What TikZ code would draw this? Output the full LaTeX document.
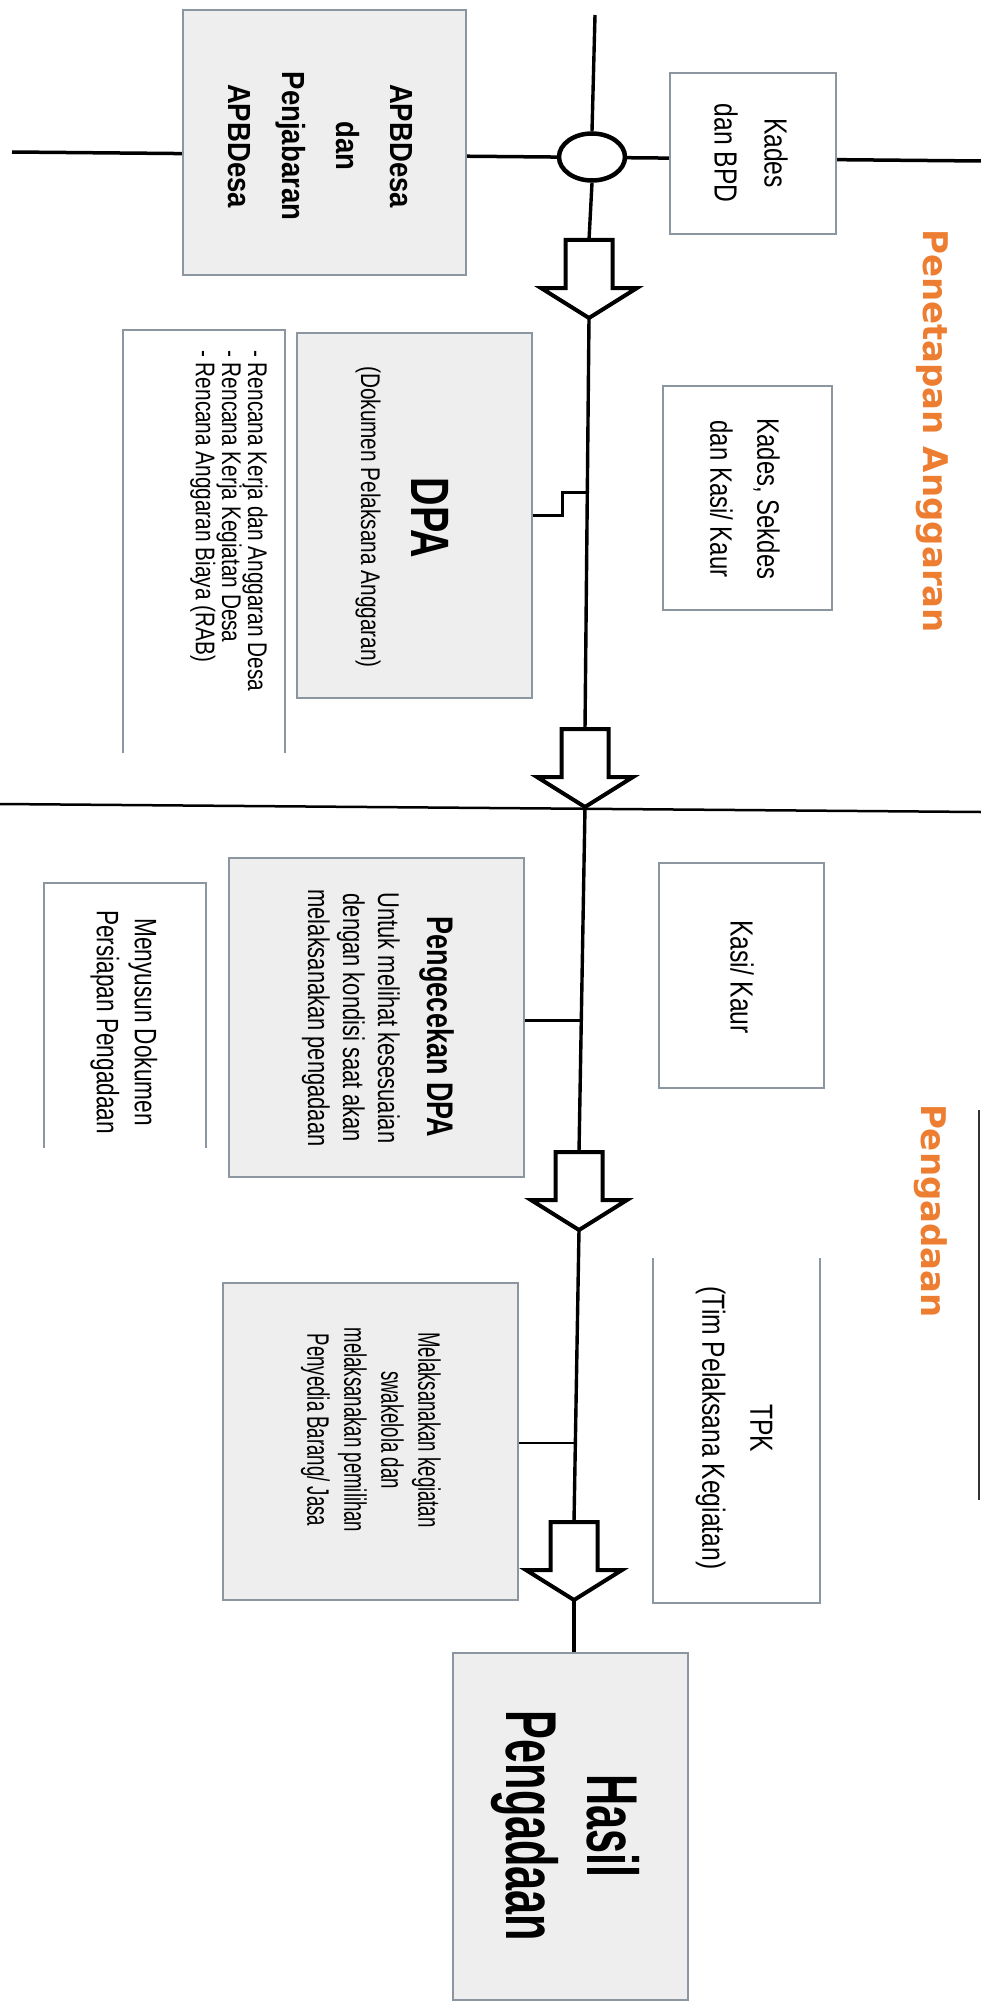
\documentclass[tikz,border=0pt]{standalone}
\usepackage{fontspec}
\usepackage{graphicx}
\setmainfont{Liberation Sans}
\newfontfamily\fA[FakeStretch=0.86]{Liberation Sans}
\newfontfamily\fB[FakeStretch=0.77]{Liberation Sans}
\newfontfamily\fC[FakeStretch=0.73]{Liberation Sans}
\newfontfamily\fD[FakeStretch=0.60]{Liberation Sans}
\newfontfamily\fO{DejaVu Sans}
\usetikzlibrary{shapes.geometric}
\definecolor{boxline}{RGB}{140,150,160}
\definecolor{boxfill}{RGB}{238,238,238}
\definecolor{orng}{RGB}{237,125,49}
\newcommand{\fs}[2]{\fontsize{#1}{#2}\selectfont}
\newcommand{\blockarrow}[3]{%
  \coordinate (#1t) at (#2,#3);
  \coordinate (#1p) at (#2,#3+78);
  \draw[barrow] (#2-23.5,#3) -- (#2+23.5,#3) -- (#2+23.5,#3+48) -- (#2+48,#3+48)
     -- (#2,#3+78) -- (#2-48,#3+48) -- (#2-23.5,#3+48) -- cycle;}
\tikzset{
  wbox/.style={draw=boxline, line width=1.5pt, fill=white, inner sep=0pt},
  gbox/.style={wbox, fill=boxfill},
  obox/.style={inner sep=0pt},
  side/.style={draw=boxline, line width=1.5pt},
  mline/.style={line width=3.4pt},
  conn/.style={line width=3pt},
  thinconn/.style={line width=2pt},
  barrow/.style={draw=black, line width=4pt, fill=white, line join=miter, miter limit=10},
  txt/.style={inner sep=0pt, rotate=-90, align=center, text=black},
  orange/.style={inner sep=0pt, rotate=-90, text=orng, font=\fO\bfseries\fs{34}{40}},
}
\begin{document}
\begin{tikzpicture}[x=1pt,y=-1pt]
\useasboundingbox[fill=white] (0,0) rectangle (981,2009);
% long horizontal lines
\coordinate (hl) at (12,152);
\coordinate (hr) at (981,161);
\draw[line width=3.5pt] (hl) -- (hr);
\coordinate (dl) at (0,804);
\coordinate (dr) at (981,812);
\draw[line width=2.5pt] (dl) -- (dr);
\coordinate (e1) at (979,1110);
\coordinate (e2) at (979,1500);
\draw[line width=2pt, black!80] (e1) -- (e2);

% boxes
\node[gbox, minimum width=283pt, minimum height=265pt] (apb) at (324.5,142.5) {};
\node[wbox, minimum width=166pt, minimum height=161pt] (kades) at (753,153.5) {};
\node[gbox, minimum width=235pt, minimum height=365pt] (dpa) at (414.5,515.5) {};
\node[obox, minimum width=162pt, minimum height=423pt] (renc) at (204,541.5) {};
\draw[side] (renc.south west) -- (renc.north west) -- (renc.north east) -- (renc.south east);
\node[wbox, minimum width=169pt, minimum height=224pt] (kadas) at (747.5,498) {};
\node[wbox, minimum width=165pt, minimum height=225pt] (kasi) at (741.5,975.5) {};
\node[gbox, minimum width=295pt, minimum height=319pt] (peng) at (376.5,1017.5) {};
\node[obox, minimum width=162pt, minimum height=265pt] (meny) at (125,1015.5) {};
\draw[side] (meny.south west) -- (meny.north west) -- (meny.north east) -- (meny.south east);
\node[obox, minimum width=167pt, minimum height=345pt] (tpk) at (736.5,1430.5) {};
\draw[side] (tpk.north west) -- (tpk.south west) -- (tpk.south east) -- (tpk.north east);
\node[gbox, minimum width=295pt, minimum height=317pt] (mel) at (370.5,1441.5) {};
\node[gbox, minimum width=235pt, minimum height=347pt] (hasil) at (570.5,1826.5) {};

% circle on the top line
\node[draw, ellipse, line width=4.5pt, fill=white, minimum width=66pt, minimum height=47pt, inner sep=0pt] (circ) at (592,157) {};

% main vertical line and block arrows
\coordinate (top) at (595,15);
\draw[mline] (top) -- (circ.north);
\blockarrow{a1}{589}{240}
\blockarrow{a2}{585}{729}
\blockarrow{a3}{579}{1152}
\blockarrow{a4}{574}{1522}
\draw[mline] (circ.south) -- (a1t);
\draw[mline] (a1p) -- (a2t);
\draw[mline] (a2p) -- (a3t);
\draw[mline] (a3p) -- (a4t);
\draw[mline] (a4p) -- (a4p |- hasil.north);

% side connectors
\coordinate (s1) at (587.5,492);
\coordinate (s2) at (562,515);
\draw[conn] (s1) -- (s1 -| s2) -- (s2) -- (s2 -| dpa.east);
\coordinate (c2) at (581.5,1020);
\draw[conn] (c2) -- (c2 -| peng.east);
\coordinate (c3) at (575,1443);
\draw[thinconn] (c3) -- (c3 -| mel.east);

% texts
\node[txt, font=\fA\bfseries\fs{32}{54}] (apbT) at (320,146) {APBDesa\\dan\\Penjabaran\\APBDesa};
\node[txt, font=\fB\fs{32}{50}] (kadesT) at (751,153) {Kades\\dan BPD};
\node[txt, font=\fC\bfseries\fs{54}{60}] (dpaT) at (430,518) {DPA};
\node[txt, font=\fB\fs{27}{32}] (dpaS) at (368,517) {(Dokumen Pelaksana Anggaran)};
\node[txt, align=left, anchor=north west, font=\fB\fs{27}{25}] (rencT) at (268,350) {- Rencana Kerja dan Anggaran Desa\\- Rencana Kerja Kegiatan Desa\\- Rencana Anggaran Biaya (RAB)};
\node[txt, font=\fB\fs{31}{47}] (kadasT) at (745,499) {Kades, Sekdes\\dan Kasi/ Kaur};
\node[txt, font=\fB\fs{32}{40}] (kasiT) at (742,977) {Kasi/ Kaur};
\node[txt, font=\fC\bfseries\fs{37}{42}, anchor=base] (pengT) at (427,1027) {Pengecekan DPA};
\node[txt, font=\fC\fs{30}{35}] (pengB) at (351,1018) {Untuk melihat kesesuaian\\dengan kondisi saat akan\\melaksanakan pengadaan};
\node[txt, font=\fC\fs{31}{38}] (menyT) at (124,1022) {Menyusun Dokumen\\Persiapan Pengadaan};
\node[txt, font=\fB\fs{32}{48}] (tpkT) at (734,1428) {TPK\\(Tim Pelaksana Kegiatan)};
\node[txt, font=\fD\fs{31}{37}] (melT) at (371,1430) {Melaksanakan kegiatan\\swakelola dan\\melaksanakan pemilihan\\Penyedia Barang/ Jasa};
\node[txt, font=\fD\bfseries\fs{72}{81}] (hasilT) at (565,1826) {Hasil\\Pengadaan};
\node[orange, anchor=base] (or1) at (923,431) {Penetapan Anggaran};
\node[orange, anchor=base] (or2) at (921,1211) {Pengadaan};
\end{tikzpicture}
\end{document}
